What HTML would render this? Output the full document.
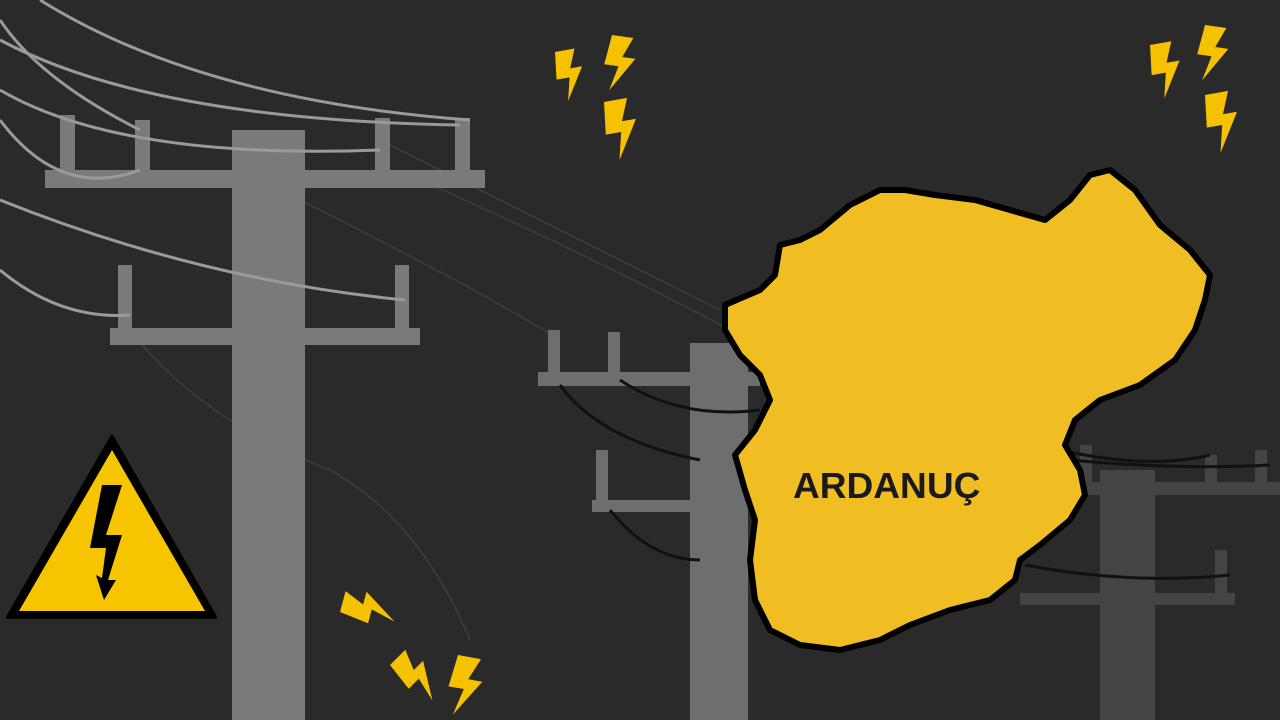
<!DOCTYPE html>
<html><head><meta charset="utf-8"><style>
html,body{margin:0;padding:0;background:#2a2a2a;width:1280px;height:720px;overflow:hidden}
svg{display:block}
</style></head><body>
<svg width="1280" height="720" viewBox="0 0 1280 720" xmlns="http://www.w3.org/2000/svg">
<defs>
<path id="b" d="M0 0 L18 0 L11 17 L22 17 L4 46 L9 25 L-3 25 Z"/>
</defs>
<rect width="1280" height="720" fill="#2a2a2a"/>
<g fill="none" stroke="#3a3a3a" stroke-width="2">
<path d="M380 140 Q560 230 720 310"/>
<path d="M420 180 Q600 260 730 330"/>
<path d="M130 330 Q200 420 330 470 Q420 520 470 640"/>
<path d="M300 200 Q480 290 560 340"/>
</g>
<g fill="#444">
<rect x="1100" y="470" width="55" height="250"/>
<rect x="1075" y="482" width="205" height="13"/>
<rect x="1020" y="593" width="215" height="12"/>
<rect x="1080" y="445" width="12" height="40"/>
<rect x="1205" y="455" width="12" height="30"/>
<rect x="1255" y="450" width="12" height="35"/>
<rect x="1215" y="550" width="12" height="45"/>
</g>
<g fill="#6e6e6e">
<rect x="690" y="343" width="58" height="377"/>
<rect x="538" y="372" width="222" height="14"/>
<rect x="548" y="330" width="12" height="44"/>
<rect x="608" y="332" width="12" height="42"/>
<rect x="592" y="500" width="100" height="12"/>
<rect x="596" y="450" width="12" height="52"/>
</g>
<g fill="none" stroke="#111" stroke-width="3">
<path d="M560 385 Q600 440 700 460"/>
<path d="M620 380 Q680 420 760 410"/>
<path d="M610 510 Q650 560 700 560"/>
<path d="M1060 450 Q1150 470 1210 455"/>
<path d="M1070 460 Q1180 470 1270 465"/>
<path d="M1025 565 Q1130 585 1230 575"/>
</g>
<g fill="#7a7a7a">
<rect x="232" y="130" width="73" height="590"/>
<rect x="45" y="170" width="440" height="18"/>
<rect x="60" y="115" width="15" height="57"/>
<rect x="135" y="120" width="15" height="52"/>
<rect x="375" y="118" width="15" height="54"/>
<rect x="455" y="118" width="15" height="54"/>
<rect x="110" y="328" width="310" height="17"/>
<rect x="118" y="265" width="14" height="65"/>
<rect x="395" y="265" width="14" height="65"/>
</g>
<g fill="none" stroke="#9a9a9a" stroke-width="3">
<path d="M0 40 Q150 120 460 125"/>
<path d="M0 20 Q40 80 140 130"/>
<path d="M0 90 Q120 160 380 150"/>
<path d="M0 120 Q60 200 140 170"/>
<path d="M0 200 Q200 280 405 300"/>
<path d="M0 270 Q60 320 130 315"/>
<path d="M40 0 Q200 100 470 120"/>
</g>
<path d="M725 305 L760 290 L775 275 L780 245 L800 240 L820 230 L850 205 L880 190 L905 190 L935 195 L975 200 L1010 210 L1045 220 L1070 200 L1090 175 L1110 170 L1135 190 L1160 225 L1190 250 L1210 275 L1205 300 L1195 330 L1175 360 L1140 385 L1100 400 L1075 420 L1065 445 L1080 470 L1085 495 L1070 520 L1040 545 L1020 560 L1015 580 L990 600 L950 610 L910 625 L880 640 L840 650 L800 645 L770 630 L755 600 L750 560 L755 520 L745 490 L735 455 L755 430 L770 400 L760 375 L740 355 L725 330 Z" fill="#f0be22" stroke="#000" stroke-width="6" stroke-linejoin="round"/>
<text x="793" y="498" font-family="Liberation Sans, sans-serif" font-weight="bold" font-size="36" fill="#1a1a1a" transform="translate(793 0) scale(1.03 1) translate(-793 0)">ARDANUÇ</text>
<path d="M112 437 L215 617 L8 617 Z" fill="#000" stroke="#000" stroke-width="4" stroke-linejoin="round"/>
<path d="M112 450 L205 611 L19 611 Z" fill="#f6c500"/>
<path d="M102 485 L122 485 L106 535 L122 535 L108 580 L116 580 L104 600 L96 575 L102 578 L106 548 L90 548 Z" fill="#000"/>
<g fill="#f6c200">
<use href="#b" transform="translate(555,52) rotate(-10) scale(1.1)"/>
<use href="#b" transform="translate(612,35) rotate(8) scale(1.2)"/>
<use href="#b" transform="translate(604,102) rotate(-10) scale(1.3)"/>
<use href="#b" transform="translate(1150,45) rotate(-10) scale(1.2)"/>
<use href="#b" transform="translate(1205,25) rotate(8) scale(1.2)"/>
<use href="#b" transform="translate(1205,95) rotate(-10) scale(1.3)"/>
<use href="#b" transform="translate(340,612) rotate(-75) scale(1.2)"/>
<use href="#b" transform="translate(390,665) rotate(-45) scale(1.2)"/>
<use href="#b" transform="translate(458,655) rotate(10) scale(1.3)"/>
</g>
</svg>
</body></html>
